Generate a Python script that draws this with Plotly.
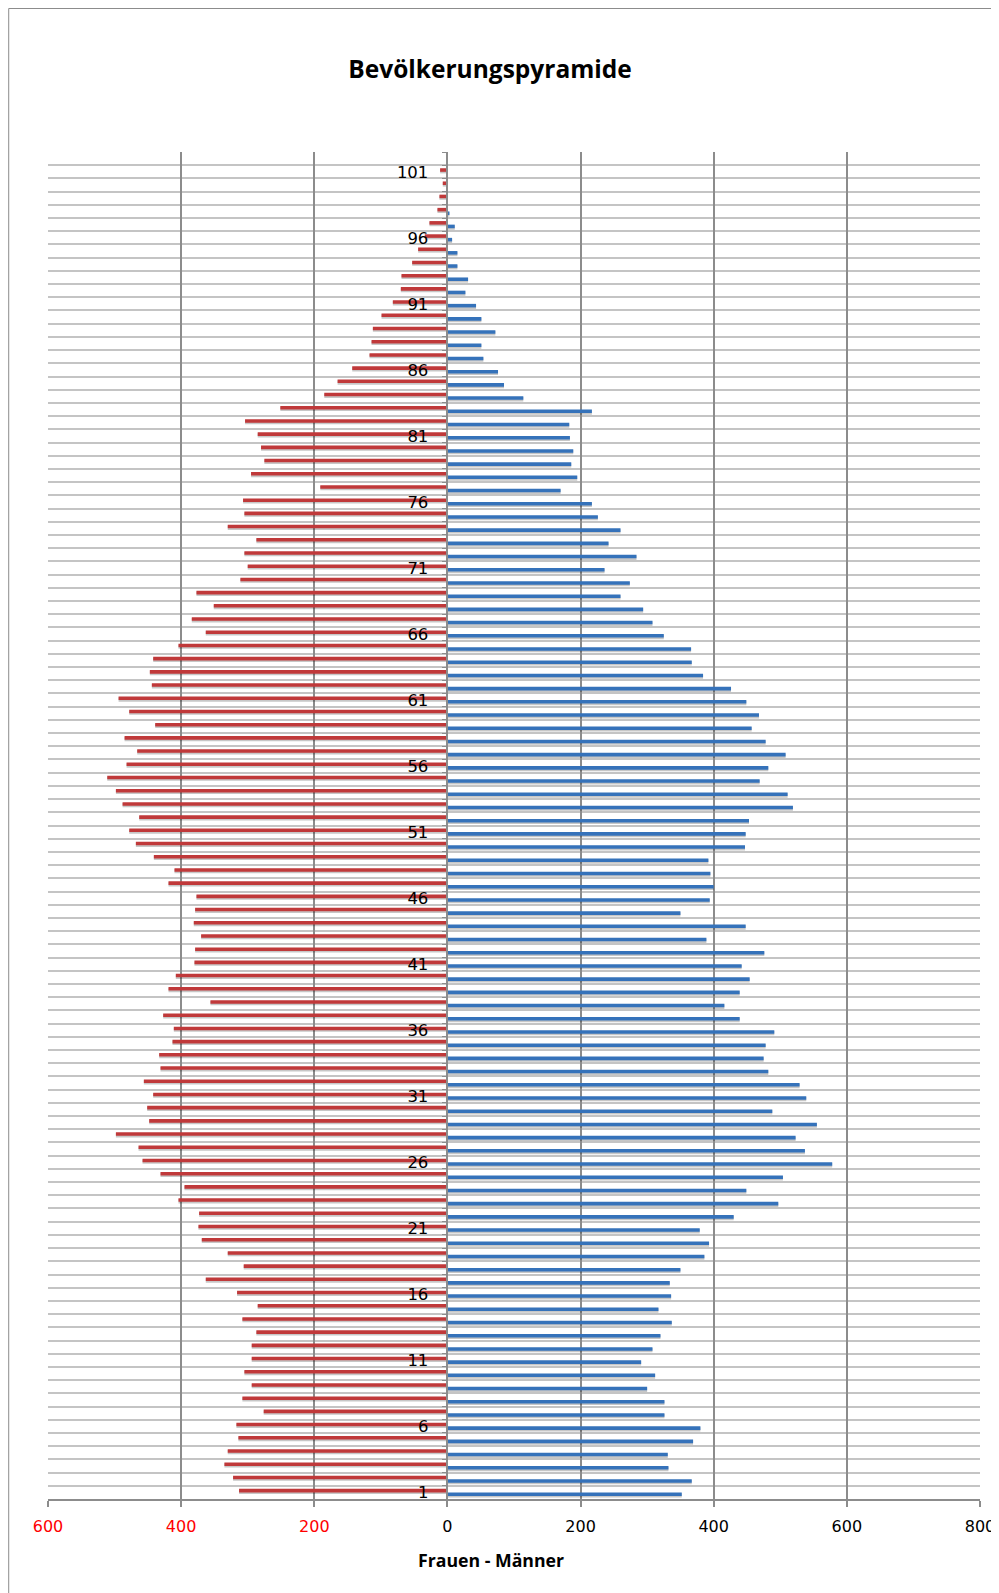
import plotly.graph_objects as go

ages = list(range(1, 102))

frauen = [313, 322, 335, 330, 314, 317, 276, 308, 294, 305,
          294, 294, 287, 308, 285, 316, 363, 306, 330, 369,
          374, 373, 404, 395, 431, 458, 464, 498, 448, 451,
          442, 456, 431, 433, 413, 411, 427, 356, 419, 408,
          380, 379, 370, 381, 379, 377, 419, 410, 441, 468,
          478, 463, 488, 498, 511, 482, 466, 485, 439, 478,
          494, 444, 447, 442, 404, 363, 384, 351, 377, 311,
          300, 305, 287, 330, 305, 307, 191, 295, 275, 280,
          285, 304, 251, 185, 165, 143, 117, 114, 112, 99,
          82, 70, 69, 53, 44, 34, 27, 15, 12, 7,
          11]

maenner = [352, 367, 332, 331, 369, 380, 326, 326, 300, 312,
           291, 308, 320, 337, 317, 336, 334, 350, 386, 393,
           379, 430, 497, 449, 504, 578, 537, 523, 555, 488,
           539, 529, 482, 475, 478, 491, 439, 416, 439, 454,
           442, 476, 389, 448, 350, 394, 400, 395, 392, 447,
           448, 453, 519, 511, 469, 482, 508, 478, 457, 468,
           449, 426, 384, 367, 366, 325, 308, 294, 260, 274,
           236, 284, 242, 260, 226, 217, 170, 195, 186, 189,
           184, 183, 217, 114, 85, 76, 54, 51, 72, 51,
           43, 27, 31, 15, 15, 7, 11, 3, 0, 0,
           0]

x_tickvals = [-600, -400, -200, 0, 200, 400, 600, 800]
x_ticktext = ["<span style='color:#FF0000'>600</span>",
              "<span style='color:#FF0000'>400</span>",
              "<span style='color:#FF0000'>200</span>",
              "0", "200", "400", "600", "800"]
y_tickvals = list(range(1, 102, 5))
y_ticktext = [str(v) for v in y_tickvals]

title_text = "Bevölkerungspyramide"
x_title = "Frauen - Männer"

RED = "#C0393A"
BLUE = "#3572BA"
SHADOW = "rgba(0,0,0,0.22)"
BW = 0.27

W, H = 999, 1593
L, R, T, B = 40, 22, 144, 102
PW, PH = W - L - R, H - T - B

fig = go.Figure()

# soft shadows
fig.add_trace(go.Bar(y=ages, x=[-v for v in frauen], orientation="h",
                     width=BW + 0.06, offset=-0.12, marker_color=SHADOW,
                     marker_line_width=0, hoverinfo="skip", showlegend=False))
fig.add_trace(go.Bar(y=ages, x=maenner, orientation="h",
                     width=BW + 0.06, offset=-BW - 0.12, marker_color=SHADOW,
                     marker_line_width=0, hoverinfo="skip", showlegend=False))

fig.add_trace(go.Bar(y=ages, x=[-v for v in frauen], orientation="h",
                     width=BW, offset=0.0, marker_color=RED,
                     marker_line_width=0, name="Frauen", showlegend=False))
fig.add_trace(go.Bar(y=ages, x=maenner, orientation="h",
                     width=BW, offset=-BW, marker_color=BLUE,
                     marker_line_width=0, name="Männer", showlegend=False))

fig.update_layout(
    width=W, height=H,
    margin=dict(l=L, r=R, t=T, b=B),
    paper_bgcolor="white", plot_bgcolor="white",
    barmode="overlay",
    font=dict(family="DejaVu Sans, sans-serif", size=16, color="#000000"),
    title=dict(text="<b>" + title_text + "</b>", x=482 / W, xref="container", xanchor="center",
               y=1 - 61 / H, yref="container", yanchor="middle",
               font=dict(family="Open Sans, sans-serif", size=24.5, color="#000000")),
    showlegend=False,
)

fig.add_annotation(text="<b>" + x_title + "</b>", xref="paper", yref="paper",
                   x=(485 - L) / PW, y=-(1552 - (H - B)) / PH,
                   xanchor="center", yanchor="middle", showarrow=False,
                   font=dict(family="Open Sans, sans-serif", size=17.7, color="#000000"))

fig.update_xaxes(
    range=[-600, 800], tickvals=x_tickvals, ticktext=x_ticktext,
    showgrid=True, gridcolor="#8C8C8C", gridwidth=1.5,
    zeroline=False,
    showline=True, linecolor="#8C8C8C", linewidth=1.5,
    ticks="outside", ticklen=6, tickcolor="#8C8C8C", tickwidth=1.5,
    tickfont=dict(size=16), ticklabelstandoff=6,
    mirror=False,
)

fig.update_yaxes(
    range=[0.5, 102.5], tickvals=y_tickvals, ticktext=y_ticktext,
    anchor="free", position=600 / 1400,
    showgrid=False, zeroline=False,
    showline=True, linecolor="#8C8C8C", linewidth=1.5,
    ticks="", tickfont=dict(size=16.5), ticklabelstandoff=15,
    minor=dict(tick0=0.5, dtick=1, showgrid=True, gridcolor="#C4C4C4", gridwidth=2,
               ticks="outside", ticklen=5, tickcolor="#8C8C8C", tickwidth=1),
)

# chart-area border
fig.add_shape(type="rect", xref="paper", yref="paper",
              x0=(0.5 - L) / PW, x1=(990 - L) / PW,
              y0=-(B + 10) / PH, y1=1 + (T - 0.5) / PH,
              line=dict(color="#8C8C8C", width=1), fillcolor="rgba(0,0,0,0)", layer="below")

fig.write_html("out.html")
